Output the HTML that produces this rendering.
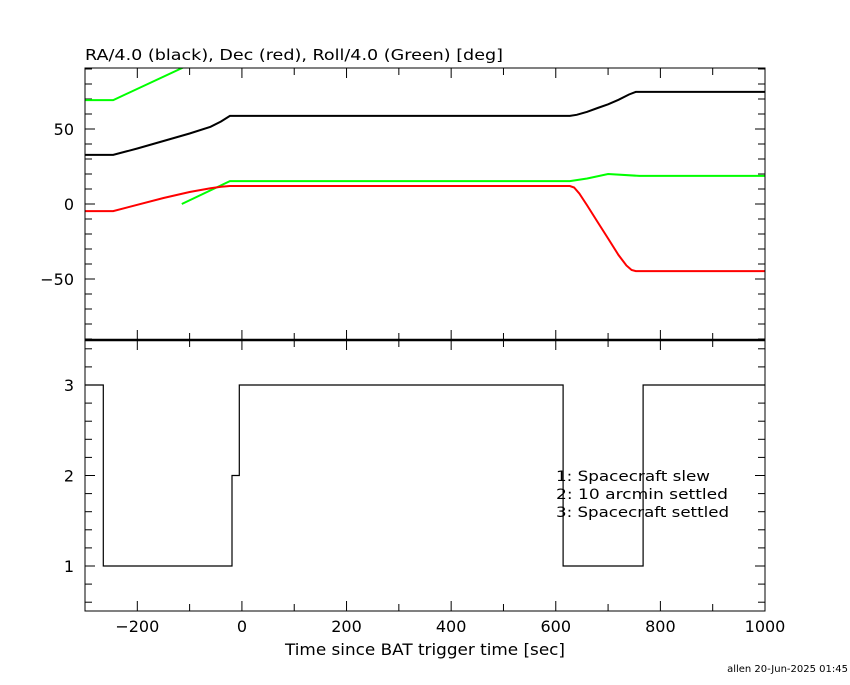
<!DOCTYPE html>
<html><head><meta charset="utf-8"><style>
body{margin:0;background:#fff}
svg text{font-family:"DejaVu Sans","Liberation Sans",sans-serif;fill:#000}
</style></head><body>
<svg id="c" width="850" height="680" xmlns="http://www.w3.org/2000/svg">
<text x="85" y="60" font-size="15" textLength="418" lengthAdjust="spacingAndGlyphs">RA/4.0 (black), Dec (red), Roll/4.0 (Green) [deg]</text>
<text x="285" y="655" font-size="16" textLength="280" lengthAdjust="spacingAndGlyphs">Time since BAT trigger time [sec]</text>
<text x="848" y="672" font-size="10" text-anchor="end">allen 20-Jun-2025 01:45</text>
<g>
<text x="556" y="481" font-size="14" textLength="154" lengthAdjust="spacingAndGlyphs">1: Spacecraft slew</text>
<text x="556" y="499" font-size="14" textLength="172" lengthAdjust="spacingAndGlyphs">2: 10 arcmin settled</text>
<text x="556" y="517" font-size="14" textLength="173" lengthAdjust="spacingAndGlyphs">3: Spacecraft settled</text>
</g>
</svg>
<script>
const xTicks=[-200,0,200,400,600,800,1000];
const topTicks=[-50,0,50];
const botTicks=[1,2,3];
const raT=[-300,-246,-200,-150,-100,-60,-40,-23,627,640,660,680,700,720,740,753,1000];
const raV=[32.7,32.7,37,42,47,51.5,55,58.7,58.7,59.5,61.5,64,66.5,69.5,73,74.7,74.7];
const roll1T=[-300,-246,-100];
const roll1V=[69.3,69.3,93];
const roll2T=[-115,-23,627,660,700,760,1000];
const roll2V=[0,15.3,15.3,17,20,18.7,18.7];
const decT=[-300,-246,-200,-150,-100,-60,-40,-23,627,635,645,660,680,700,720,735,745,753,1000];
const decV=[-4.7,-4.7,-0.5,4,8,10.5,11.5,12,12,11,7,-1,-12,-23,-34,-41,-44,-44.7,-44.7];
const stepT=[-300,-265,-19,-5,614,767,1000];
const stepV=[3,1,2,3,1,3,3];

const NS='http://www.w3.org/2000/svg';
const svg=document.getElementById('c');
const L=85,R=765,T=68,M=340,B=611;
const X=t=>L+(t+300)*(R-L)/1300;
const YT=v=>204-v*1.5;
const YB=v=>385-(v-3)*90.5;
function el(tag,attrs,parent){const e=document.createElementNS(NS,tag);for(const k in attrs)e.setAttribute(k,attrs[k]);(parent||svg).appendChild(e);return e;}
const defs=el('defs',{});
const cp1=el('clipPath',{id:'cpt'},defs);el('rect',{x:L,y:T,width:R-L,height:M-T},cp1);
const cp2=el('clipPath',{id:'cpb'},defs);el('rect',{x:L,y:M,width:R-L,height:B-M},cp2);

const ticks=el('g',{stroke:'#000','stroke-width':1});


for(let t=-300;t<=1000;t+=100){const x=X(t);const len=(t%200===0)?10:7;
 for(const y of [T,M]){el('line',{x1:x,y1:y,x2:x,y2:y+len},ticks);}
 for(const y of [M,B]){el('line',{x1:x,y1:y,x2:x,y2:y-len},ticks);}
}
for(let v=-90;v<=90;v+=10){const y=YT(v);const len=(v%50===0)?10:7;
 el('line',{x1:L,y1:y,x2:L+len,y2:y},ticks);el('line',{x1:R,y1:y,x2:R-len,y2:y},ticks);}
for(let i=3;i<=17;i++){const v=i*0.2;const y=YB(v);const len=(Math.abs(v-Math.round(v))<0.01)?10:7;
 el('line',{x1:L,y1:y,x2:L+len,y2:y},ticks);el('line',{x1:R,y1:y,x2:R-len,y2:y},ticks);}
xTicks.forEach(t=>{const tx=el('text',{x:X(t),y:632,'font-size':16,'text-anchor':'middle'});tx.textContent=(t<0?'\u2212'+(-t):t);

});
topTicks.forEach(v=>{const tx=el('text',{x:74,y:YT(v)+6,'font-size':16,'text-anchor':'end'});tx.textContent=(v<0?'\u2212'+(-v):v);

});
botTicks.forEach(v=>{const tx=el('text',{x:74,y:YB(v)+6,'font-size':16,'text-anchor':'end'});tx.textContent=v;

});

function line(ts,vs,yf,color,clip,name,w){const p=ts.map((t,i)=>X(t).toFixed(1)+','+yf(vs[i]).toFixed(1)).join(' ');
 const e=el('polyline',{points:p,fill:'none',stroke:color,'stroke-width':w,'clip-path':'url(#'+clip+')'});
 
 }
line(raT,raV,YT,'#000','cpt','ra-series',2);
line(roll1T,roll1V,YT,'#00ff00','cpt','roll-series-upper',2);
line(roll2T,roll2V,YT,'#00ff00','cpt','roll-series-lower',2);
line(decT,decV,YT,'#ff0000','cpt','dec-series',2);
const sp=[];stepT.forEach((t,i)=>{if(i>0)sp.push([t,stepV[i-1]]);sp.push([t,stepV[i]]);});
line(sp.map(a=>a[0]),sp.map(a=>a[1]),YB,'#000','cpb','status-step-line',1.2);

const fr=el('g',{fill:'none',stroke:'#000','stroke-width':1});


el('rect',{x:L,y:T,width:R-L,height:B-T},fr);
el('line',{x1:L,y1:M,x2:R,y2:M,'stroke-width':2.5},fr);
</script>
</body></html>
